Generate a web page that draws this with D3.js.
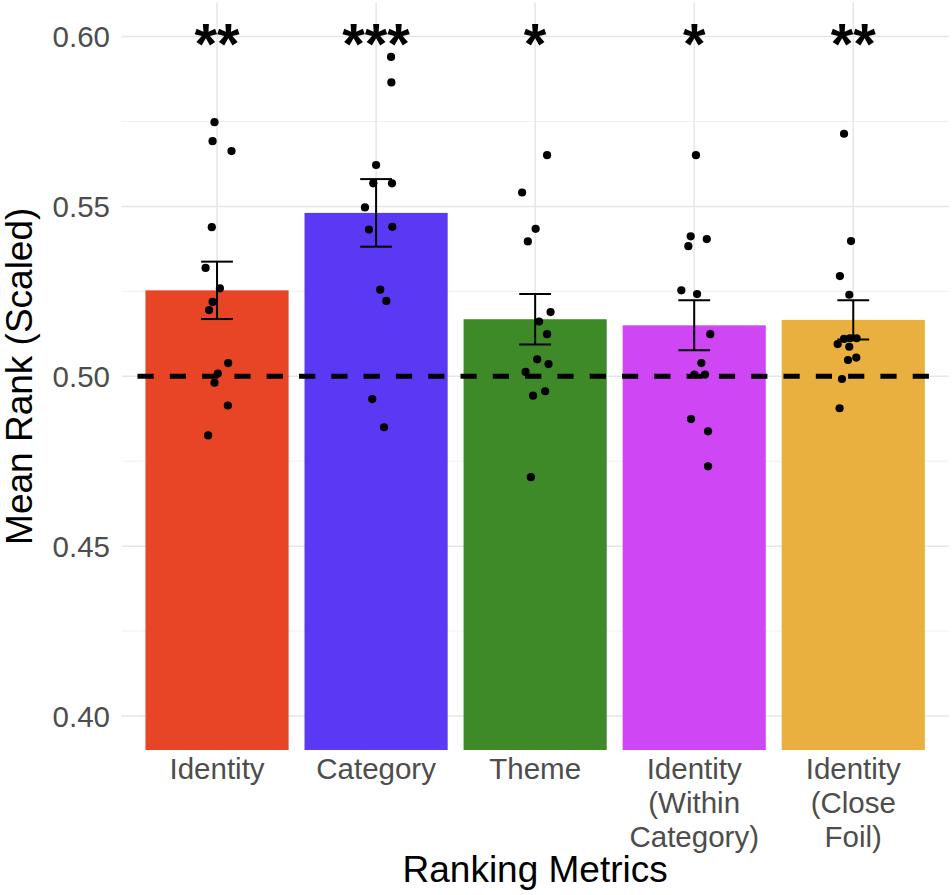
<!DOCTYPE html>
<html><head><meta charset="utf-8">
<script src="https://cdn.jsdelivr.net/npm/d3@7"></script>
<style>body{margin:0;background:#fff}svg{display:block}</style>
</head><body><svg id="c" width="952" height="895"></svg>
<script>
// ---- data ----
const categories = ["Identity", "Category", "Theme", "Identity\n(Within\nCategory)", "Identity\n(Close\nFoil)"];
const barColors = ["#E84426", "#5A38F4", "#3E8A29", "#CF46F5", "#E9AF3F"];
const means = [0.5253, 0.5481, 0.5168, 0.5150, 0.5166];
const ses = [0.00845, 0.00995, 0.00745, 0.00735, 0.00575];
const stars = ["**", "***", "*", "*", "**"];
const chance = 0.5;
const yTicks = [0.40, 0.45, 0.50, 0.55, 0.60];
const yMinor = [0.425, 0.475, 0.525, 0.575];

// participant values per metric, with ggplot-style horizontal jitter (category units)
const identityVals = [0.5748, 0.5692, 0.5663, 0.5439, 0.5319, 0.5259, 0.5219, 0.5195, 0.5039, 0.5008, 0.4981, 0.4914, 0.4826];
const identityJit  = [-0.016, -0.028, 0.091, -0.033, -0.072, 0.018, -0.028, -0.050, 0.070, 0.005, -0.016, 0.068, -0.056];
const categoryVals = [0.5940, 0.5865, 0.5622, 0.5568, 0.5568, 0.5497, 0.5432, 0.5440, 0.5255, 0.5222, 0.4933, 0.4850];
const categoryJit  = [0.094, 0.096, 0.000, -0.018, 0.100, -0.070, -0.045, 0.102, 0.026, 0.064, -0.024, 0.050];
const themeVals = [0.5651, 0.5541, 0.5434, 0.5397, 0.5189, 0.5161, 0.5124, 0.5050, 0.5036, 0.5013, 0.4956, 0.4943, 0.4703];
const themeJit  = [0.075, -0.082, 0.003, -0.046, 0.097, 0.025, 0.075, 0.013, 0.084, -0.060, 0.063, -0.013, -0.027];
const withinVals = [0.5651, 0.5412, 0.5404, 0.5383, 0.5253, 0.5242, 0.5124, 0.5039, 0.5005, 0.5005, 0.4874, 0.4838, 0.4735];
const withinJit  = [0.011, -0.022, 0.079, -0.037, -0.081, 0.018, 0.101, 0.045, 0.001, 0.068, -0.020, 0.087, 0.087];
const foilVals = [0.5714, 0.5398, 0.5295, 0.5240, 0.5110, 0.5112, 0.5112, 0.5095, 0.5087, 0.5048, 0.5055, 0.4992, 0.4906];
const foilJit  = [-0.058, -0.014, -0.084, -0.025, -0.058, -0.021, 0.021, -0.098, -0.025, -0.033, 0.019, -0.071, -0.086];

const pointSets = [[identityVals, identityJit], [categoryVals, categoryJit], [themeVals, themeJit], [withinVals, withinJit], [foilVals, foilJit]];
const points = [];
pointSets.forEach(([vals, jit], i) => vals.forEach((v, j) => points.push({cat: i + 1, jit: jit[j], v})));

// ---- layout ----
const svg = d3.select("#c");
const panel = {left: 121.6, right: 948.7, top: 2.6, bottom: 750};
const x = d3.scaleLinear().domain([0.4, categories.length + 0.6]).range([panel.left, panel.right]);
const y = d3.scaleLinear().domain([0.39, 0.61]).range([panel.bottom, panel.top]);
const font = "'Liberation Sans', Arial, Helvetica, sans-serif";

// gridlines
const g = svg.append("g");
g.selectAll(".minor").data(yMinor).join("line")
  .attr("x1", panel.left).attr("x2", panel.right)
  .attr("y1", d => y(d)).attr("y2", d => y(d))
  .attr("stroke", "#F0F0F0").attr("stroke-width", 1);
g.selectAll(".major").data(yTicks).join("line")
  .attr("x1", panel.left).attr("x2", panel.right)
  .attr("y1", d => y(d)).attr("y2", d => y(d))
  .attr("stroke", "#E6E6E6").attr("stroke-width", 1.5);
g.selectAll(".vmajor").data(categories.map((c, i) => i + 1)).join("line")
  .attr("x1", d => x(d)).attr("x2", d => x(d))
  .attr("y1", panel.top).attr("y2", panel.bottom)
  .attr("stroke", "#E6E6E6").attr("stroke-width", 1.5);

// bars
const bw = 0.9;
svg.append("g").selectAll("rect").data(means).join("rect")
  .attr("x", (d, i) => x(i + 1 - bw / 2))
  .attr("width", x(bw) - x(0))
  .attr("y", d => y(d))
  .attr("height", d => y(0.39) - y(d))
  .attr("fill", (d, i) => barColors[i]);

// chance line (spans first to last category edge)
svg.append("line")
  .attr("x1", x(0.5)).attr("x2", x(categories.length + 0.5))
  .attr("y1", y(chance)).attr("y2", y(chance))
  .attr("stroke", "#000").attr("stroke-width", 5)
  .attr("stroke-dasharray", "16.2,16.1");

// error bars
const ew = 0.2;
const eb = svg.append("g").attr("stroke", "#000").attr("stroke-width", 2).attr("fill", "none");
means.forEach((m, i) => {
  const cx = x(i + 1), lo = y(m - ses[i]), hi = y(m + ses[i]);
  const hw = (x(ew) - x(0)) / 2;
  eb.append("line").attr("x1", cx).attr("x2", cx).attr("y1", lo).attr("y2", hi);
  eb.append("line").attr("x1", cx - hw).attr("x2", cx + hw).attr("y1", lo).attr("y2", lo);
  eb.append("line").attr("x1", cx - hw).attr("x2", cx + hw).attr("y1", hi).attr("y2", hi);
});

// points
svg.append("g").selectAll("circle").data(points).join("circle")
  .attr("cx", d => x(d.cat + d.jit)).attr("cy", d => y(d.v))
  .attr("r", 4.1).attr("fill", "#000");

// significance stars
const sfs = 58;
svg.append("g").selectAll("text").data(stars).join("text")
  .attr("x", (d, i) => x(i + 1)).attr("y", y(0.6) + sfs * 0.47)
  .attr("text-anchor", "middle").attr("font-family", font).attr("font-weight", "bold")
  .attr("font-size", sfs).attr("fill", "#000").text(d => d);

// y tick labels
svg.append("g").selectAll("text").data(yTicks).join("text")
  .attr("x", 110).attr("y", d => y(d)).attr("dy", "0.36em")
  .attr("text-anchor", "end").attr("font-family", font).attr("font-size", 29.5)
  .attr("fill", "#4D4D4D").text(d => d3.format(".2f")(d));

// x tick labels
const xt = svg.append("g");
categories.forEach((c, i) => {
  const t = xt.append("text").attr("x", x(i + 1)).attr("y", 779)
    .attr("text-anchor", "middle").attr("font-family", font).attr("font-size", 29.5).attr("fill", "#4D4D4D");
  c.split("\n").forEach((line, k) => {
    t.append("tspan").attr("x", x(i + 1)).attr("dy", k === 0 ? 0 : 34).text(line);
  });
});

// axis titles
svg.append("text").attr("x", (panel.left + panel.right) / 2).attr("y", 882)
  .attr("text-anchor", "middle").attr("font-family", font).attr("font-size", 37)
  .attr("fill", "#000").text("Ranking Metrics");
svg.append("text").attr("transform", `translate(32,${(panel.top + panel.bottom) / 2}) rotate(-90)`)
  .attr("text-anchor", "middle").attr("font-family", font).attr("font-size", 37)
  .attr("fill", "#000").text("Mean Rank (Scaled)");
</script></body></html>
